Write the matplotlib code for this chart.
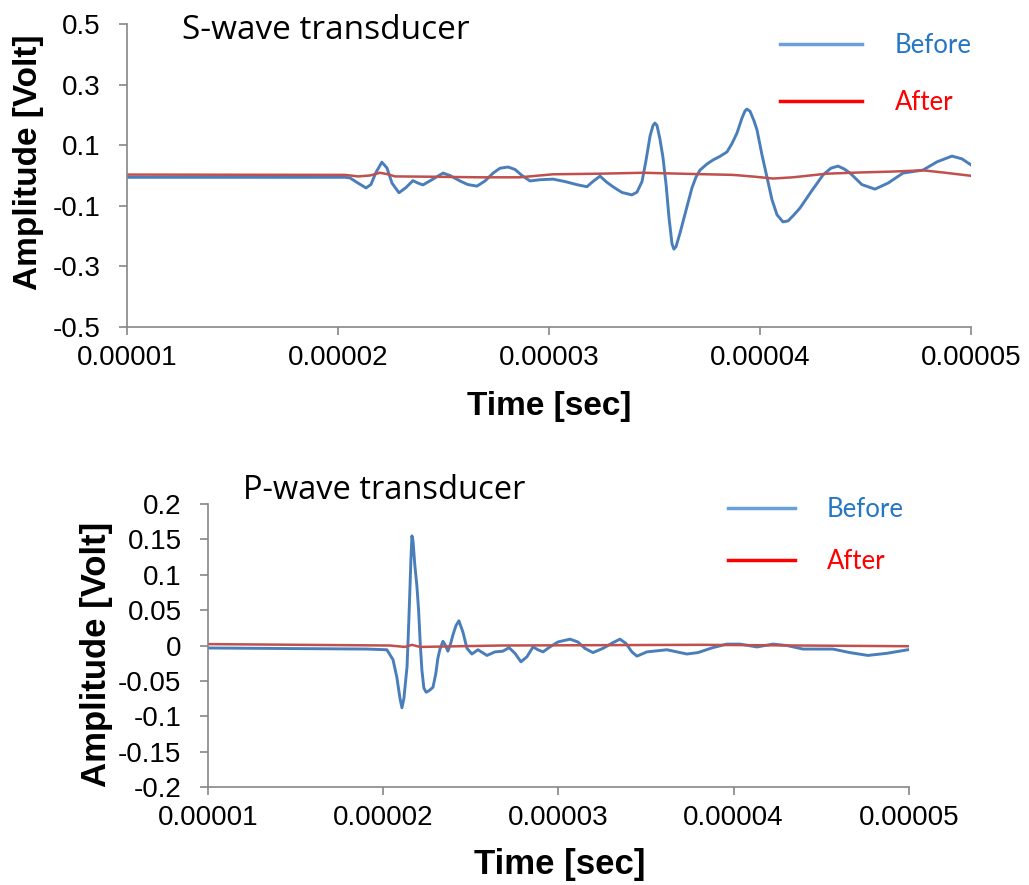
import numpy as np
import matplotlib
matplotlib.use('Agg')
import matplotlib.pyplot as plt
from matplotlib.lines import Line2D

# --- S-wave transducer record (time in microseconds, amplitude in volts) ---
s_before_t = [10.00, 20.33, 20.57, 20.95, 21.33, 21.56, 21.80, 22.08, 22.32, 22.56,
              22.89, 23.22, 23.55, 23.79, 24.03, 24.50, 24.98, 25.31, 25.78, 26.16,
              26.59, 26.97, 27.35, 27.68, 28.06, 28.39, 28.72, 29.10, 29.57, 30.19,
              30.76, 31.37, 31.80, 32.08, 32.42, 32.70, 33.03, 33.46, 33.93, 34.17,
              34.41, 34.60, 34.79, 34.93, 35.02, 35.12, 35.26, 35.40, 35.55, 35.69,
              35.83, 35.92, 36.02, 36.21, 36.40, 36.54, 36.78, 36.97, 37.16, 37.49,
              37.77, 38.10, 38.44, 38.67, 38.91, 39.15, 39.29, 39.38, 39.53, 39.72,
              39.86, 40.09, 40.33, 40.57, 40.81, 41.09, 41.33, 41.61, 41.90, 42.46,
              42.99, 43.36, 43.70, 43.98, 44.27, 44.83, 45.45, 46.07, 46.78, 47.73,
              48.39, 49.10, 49.57, 50.00]
s_before_v = [-0.006, -0.006, -0.008, -0.025, -0.041, -0.030, 0.010, 0.044, 0.025, -0.025,
              -0.057, -0.040, -0.017, -0.025, -0.031, -0.012, 0.008, 0.000, -0.018, -0.030,
              -0.035, -0.018, 0.008, 0.024, 0.028, 0.020, 0.000, -0.018, -0.014, -0.012,
              -0.020, -0.031, -0.037, -0.020, -0.002, -0.020, -0.037, -0.056, -0.064, -0.055,
              -0.020, 0.050, 0.130, 0.165, 0.173, 0.165, 0.120, 0.061, -0.030, -0.140,
              -0.225, -0.243, -0.235, -0.190, -0.140, -0.103, -0.040, -0.005, 0.018, 0.038,
              0.051, 0.063, 0.078, 0.105, 0.140, 0.190, 0.213, 0.219, 0.212, 0.180,
              0.150, 0.070, -0.005, -0.080, -0.130, -0.153, -0.150, -0.130, -0.107, -0.050,
              0.002, 0.024, 0.031, 0.022, 0.008, -0.030, -0.045, -0.025, 0.008, 0.018,
              0.045, 0.064, 0.055, 0.035]

s_after_t = [10.00, 20.33, 20.95, 21.52, 21.99, 22.37, 22.70, 24.36, 26.73, 28.62,
             30.19, 32.42, 34.46, 36.82, 38.72, 39.76, 40.62, 41.56, 43.17, 44.74,
             46.30, 47.73, 48.67, 50.00]
s_after_v = [0.003, 0.002, -0.003, 0.000, 0.009, 0.004, -0.003, -0.004, -0.006, -0.006,
             0.004, 0.006, 0.009, 0.005, 0.002, -0.004, -0.010, -0.006, 0.006, 0.010,
             0.013, 0.017, 0.010, -0.001]

# --- P-wave transducer record ---
p_before_t = [10.00, 19.07, 20.21, 20.56, 20.78, 20.96, 21.07, 21.18, 21.36, 21.47,
              21.58, 21.64, 21.70, 21.80, 21.92, 22.02, 22.12, 22.21, 22.32, 22.45,
              22.61, 22.84, 23.00, 23.12, 23.24, 23.41, 23.56, 23.69, 23.84, 23.98,
              24.15, 24.32, 24.55, 24.78, 25.06, 25.41, 25.92, 26.38, 26.83, 27.18,
              27.52, 27.86, 28.20, 28.55, 28.83, 29.12, 29.51, 29.97, 30.66, 31.11,
              31.51, 31.97, 32.54, 33.11, 33.51, 33.85, 34.19, 34.48, 35.05, 36.19,
              37.33, 37.96, 38.81, 39.61, 40.36, 41.33, 42.24, 43.04, 43.95, 45.66,
              46.63, 47.66, 48.74, 49.94]
p_before_v = [-0.0035, -0.005, -0.006, -0.020, -0.045, -0.075, -0.088, -0.075, -0.030, 0.040,
              0.120, 0.155, 0.148, 0.115, 0.085, 0.050, 0.000, -0.035, -0.060, -0.066,
              -0.064, -0.059, -0.040, -0.018, -0.005, 0.006, 0.000, -0.008, 0.002, 0.015,
              0.028, 0.035, 0.019, -0.004, -0.012, -0.006, -0.014, -0.009, -0.008, -0.003,
              -0.011, -0.023, -0.016, -0.002, -0.006, -0.009, -0.002, 0.005, 0.009, 0.005,
              -0.004, -0.010, -0.004, 0.004, 0.009, 0.003, -0.009, -0.015, -0.009, -0.006,
              -0.012, -0.010, -0.003, 0.002, 0.002, -0.002, 0.002, 0.000, -0.005, -0.005,
              -0.010, -0.014, -0.011, -0.006]

p_after_t = [10.00, 15.25, 20.39, 21.24, 21.64, 22.10, 26.66, 38.07, 43.78, 49.94]
p_after_v = [0.002, 0.001, 0.000, -0.002, 0.001, -0.002, 0.000, 0.001, 0.000, -0.001]

x_ticks = [1e-5, 2e-5, 3e-5, 4e-5, 5e-5]
x_labels = ['0.00001', '0.00002', '0.00003', '0.00004', '0.00005']
s_yticks = [0.5, 0.3, 0.1, -0.1, -0.3, -0.5]
s_ylabels = ['0.5', '0.3', '0.1', '-0.1', '-0.3', '-0.5']
p_yticks = [0.2, 0.15, 0.1, 0.05, 0, -0.05, -0.1, -0.15, -0.2]
p_ylabels = ['0.2', '0.15', '0.1', '0.05', '0', '-0.05', '-0.1', '-0.15', '-0.2']

BLUE = '#4A7EBB'
RED = '#C0504D'
AXIS_GRAY = '#868686'
SANS = 'Liberation Sans'
TITLE_FONT = 'Open Sans'
LEG_FONT = 'Lato'

fig = plt.figure(figsize=(10.29, 8.85), dpi=100)
ax1 = fig.add_axes([0.1234, 0.6305, 0.8202, 0.3424])
ax2 = fig.add_axes([0.2021, 0.1107, 0.6812, 0.3198])


def style_axes(ax, yticks, ylabels, ylim):
    ax.set_xlim(1e-5, 5e-5)
    ax.set_ylim(*ylim)
    ax.set_xticks(x_ticks)
    ax.set_xticklabels(x_labels, fontfamily=SANS, fontsize=20)
    ax.set_yticks(yticks)
    ax.set_yticklabels(ylabels, fontfamily=SANS, fontsize=20)
    for side in ('top', 'right'):
        ax.spines[side].set_visible(False)
    for side in ('left', 'bottom'):
        ax.spines[side].set_color(AXIS_GRAY)
        ax.spines[side].set_linewidth(1.2)
    ax.tick_params(axis='both', direction='out', length=6, width=1.2, color=AXIS_GRAY)
    ax.tick_params(axis='y', pad=13)
    ax.tick_params(axis='x', pad=7)


# S-wave panel
ax1.plot(np.array(s_before_t) * 1e-6, s_before_v, color=BLUE, lw=2.1)
ax1.plot(np.array(s_after_t) * 1e-6, s_after_v, color=RED, lw=1.8)
style_axes(ax1, s_yticks, s_ylabels, (-0.5, 0.5))
ax1.set_xlabel('Time [sec]', fontfamily=SANS, fontsize=24, fontweight='bold')
ax1.set_ylabel('Amplitude [Volt]', fontfamily=SANS, fontsize=24, fontweight='bold')
ax1.xaxis.set_label_coords(0.5, -0.211)
ax1.yaxis.set_label_coords(-0.098, 0.545)
ax1.text(0.065, 0.95, 'S-wave transducer', transform=ax1.transAxes,
         fontfamily=TITLE_FONT, fontsize=24, va='baseline', ha='left')

# P-wave panel
ax2.plot(np.array(p_before_t) * 1e-6, p_before_v, color=BLUE, lw=2.1)
ax2.plot(np.array(p_after_t) * 1e-6, p_after_v, color=RED, lw=1.8)
style_axes(ax2, p_yticks, p_ylabels, (-0.2, 0.2))
ax2.set_xlabel('Time [sec]', fontfamily=SANS, fontsize=25, fontweight='bold')
ax2.set_ylabel('Amplitude [Volt]', fontfamily=SANS, fontsize=25, fontweight='bold')
ax2.xaxis.set_label_coords(0.502, -0.216)
ax2.yaxis.set_label_coords(-0.1355, 0.468)
ax2.text(0.05, 1.016, 'P-wave transducer', transform=ax2.transAxes,
         fontfamily=TITLE_FONT, fontsize=23.5, va='baseline', ha='left')

# legends
handles = [Line2D([], [], color='#6A9FD8', lw=2.5), Line2D([], [], color='#FF0000', lw=2.5)]
leg_colors = ['#2576C4', '#FF0000']
ax1.legend(handles, ['Before', 'After'], loc='upper left', bbox_to_anchor=(0.774, 0.97),
           frameon=False, borderpad=0, borderaxespad=0, handlelength=3.2, handletextpad=1.25,
           labelspacing=1.25, labelcolor=leg_colors, prop={'family': LEG_FONT, 'size': 18.5})
ax2.legend(handles, ['Before', 'After'], loc='upper left', bbox_to_anchor=(0.742, 1.025),
           frameon=False, borderpad=0, borderaxespad=0, handlelength=2.6, handletextpad=1.25,
           labelspacing=1.05, labelcolor=leg_colors, prop={'family': LEG_FONT, 'size': 18.5})

fig.savefig('out.png', dpi=100)
